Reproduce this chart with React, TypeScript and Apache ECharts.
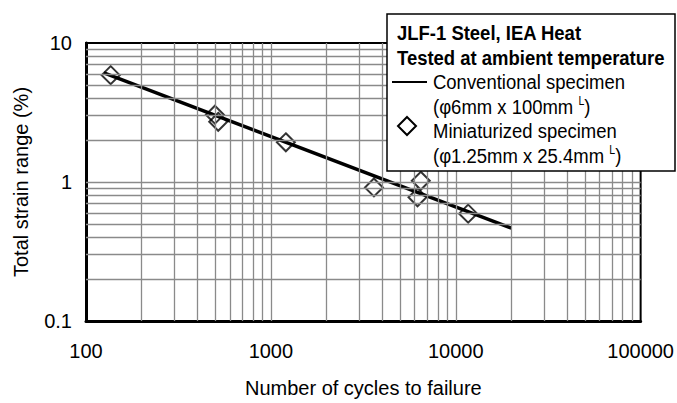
import React, { useEffect, useRef } from 'react';
import * as echarts from 'echarts';

// ---- data ----
const conventionalLine: [number, number][] = [
  [125, 6.1],
  [20000, 0.465],
];
const miniaturizedPoints: [number, number][] = [
  [136, 5.87],
  [498, 3.05],
  [519, 2.71],
  [1205, 1.93],
  [3610, 0.914],
  [6210, 0.777],
  [6470, 1.02],
  [11670, 0.592],
];
const xTickLabels = ['100', '1000', '10000', '100000'];
const yTickLabels = ['0.1', '1', '10'];
const xGridValues = [
  200, 300, 400, 500, 600, 700, 800, 900, 1000,
  2000, 3000, 4000, 5000, 6000, 7000, 8000, 9000, 10000,
  20000, 30000, 40000, 50000, 60000, 70000, 80000, 90000,
];
const yGridValues = [
  0.2, 0.3, 0.4, 0.5, 0.6, 0.7, 0.8, 0.9, 1,
  2, 3, 4, 5, 6, 7, 8, 9,
];
const xAxisTitle = 'Number of cycles to failure';
const yAxisTitle = 'Total strain range (%)';
const legendTitleLines = ['JLF-1 Steel, IEA Heat', 'Tested at ambient temperature'];
const legendConventional = ['Conventional specimen', '(φ6mm x 100mm {sup|L})'];
const legendMiniaturized = ['Miniaturized specimen', '(φ1.25mm x 25.4mm {sup|L})'];

const FONT = 'Liberation Sans, Arial, sans-serif';

function fmt(v: number) {
  return String(Number(v.toPrecision(6)));
}

export default function App() {
  const ref = useRef<HTMLDivElement>(null);

  useEffect(() => {
    if (!ref.current) return;
    const chart = echarts.init(ref.current, undefined, { renderer: 'svg' });

    const baseText = {
      fontFamily: FONT,
      fontSize: 21,
      fill: '#000',
      align: 'left',
      verticalAlign: 'middle',
      lineHeight: 24,
    };
    const rich = {
      sup: { fontFamily: FONT, fontSize: 12, verticalAlign: 'top', lineHeight: 14, fill: '#000' },
    };
    const baselines = [40, 64.5, 89, 113.5, 138, 162.5];
    const sx = 0.88;
    const legendX = 397;
    const itemX = 433;

    const graphicEls: any[] = [
      {
        type: 'rect',
        shape: { x: 387, y: 14, width: 288, height: 157 },
        style: { fill: '#fff', stroke: '#000', lineWidth: 1.5 },
        z: 100,
      },
      ...legendTitleLines.map((t, i) => ({
        type: 'text',
        x: legendX,
        y: baselines[i] - 7,
        scaleX: sx,
        z: 101,
        style: { ...baseText, text: t, fontWeight: 'bold' },
      })),
      ...legendConventional.map((t, i) => ({
        type: 'text',
        x: itemX,
        y: baselines[2 + i] - 7,
        scaleX: sx,
        z: 101,
        style: { ...baseText, text: t, rich },
      })),
      ...legendMiniaturized.map((t, i) => ({
        type: 'text',
        x: itemX,
        y: baselines[4 + i] - 7,
        scaleX: sx,
        z: 101,
        style: { ...baseText, text: t, rich },
      })),
      {
        type: 'line',
        shape: { x1: 392, y1: baselines[2] - 7, x2: 427, y2: baselines[2] - 7 },
        style: { stroke: '#000', lineWidth: 2 },
        z: 101,
      },
      {
        type: 'polygon',
        shape: {
          points: [
            [407, 117],
            [416, 126],
            [407, 135],
            [398, 126],
          ],
        },
        style: { fill: 'none', stroke: '#000', lineWidth: 2 },
        z: 101,
      },
    ];

    chart.setOption({
      animation: false,
      backgroundColor: '#fff',
      grid: {
        left: 86,
        top: 43,
        right: 36,
        bottom: 77,
        show: true,
        borderColor: '#000',
        borderWidth: 2,
        backgroundColor: 'transparent',
      },
      xAxis: {
        type: 'log',
        logBase: 10,
        min: 100,
        max: 100000,
        name: xAxisTitle,
        nameLocation: 'middle',
        nameGap: 57,
        nameTextStyle: { fontFamily: FONT, fontSize: 20, color: '#000' },
        axisLine: { show: true, lineStyle: { color: '#000', width: 3 } },
        axisTick: { show: false },
        splitLine: { show: false },
        minorTick: { show: false },
        minorSplitLine: { show: false },
        axisLabel: {
          fontFamily: FONT,
          fontSize: 20,
          color: '#000',
          margin: 20,
          showMinLabel: true,
          showMaxLabel: true,
          formatter: (v: number) => {
            const s = fmt(v);
            return xTickLabels.includes(s) ? s : '';
          },
        },
      },
      yAxis: {
        type: 'log',
        logBase: 10,
        min: 0.1,
        max: 10,
        name: yAxisTitle,
        nameLocation: 'middle',
        nameGap: 55,
        nameRotate: 90,
        nameTextStyle: { fontFamily: FONT, fontSize: 20, color: '#000' },
        axisLine: { show: true, lineStyle: { color: '#000', width: 3 } },
        axisTick: { show: false },
        splitLine: { show: false },
        minorTick: { show: false },
        minorSplitLine: { show: false },
        axisLabel: {
          fontFamily: FONT,
          fontSize: 20,
          color: '#000',
          margin: 14,
          padding: [4, 0, 0, 0],
          showMinLabel: true,
          showMaxLabel: true,
          formatter: (v: number) => {
            const s = fmt(v);
            return yTickLabels.includes(s) ? s : '';
          },
        },
      },
      series: [
        {
          name: 'grid',
          type: 'line',
          data: [],
          z: 1,
          silent: true,
          markLine: {
            silent: true,
            symbol: ['none', 'none'],
            label: { show: false },
            lineStyle: { color: '#8a8a8a', width: 1.3, type: 'solid' },
            emphasis: { disabled: true },
            data: [
              ...xGridValues.map((v) => ({ xAxis: v })),
              ...yGridValues.map((v) => ({ yAxis: v })),
            ],
          },
        },
        {
          name: 'Miniaturized specimen',
          type: 'scatter',
          data: miniaturizedPoints,
          symbol: 'diamond',
          symbolSize: 18,
          z: 3,
          itemStyle: { color: 'transparent', borderColor: '#000', borderWidth: 2 },
        },
        {
          name: 'Conventional specimen',
          type: 'line',
          data: conventionalLine,
          symbol: 'none',
          z: 4,
          lineStyle: { color: '#000', width: 3.5 },
        },
      ],
      graphic: graphicEls,
    });

    return () => chart.dispose();
  }, []);

  return <div ref={ref} style={{ width: 677, height: 403, position: 'absolute', left: 0, top: 0 }} />;
}
